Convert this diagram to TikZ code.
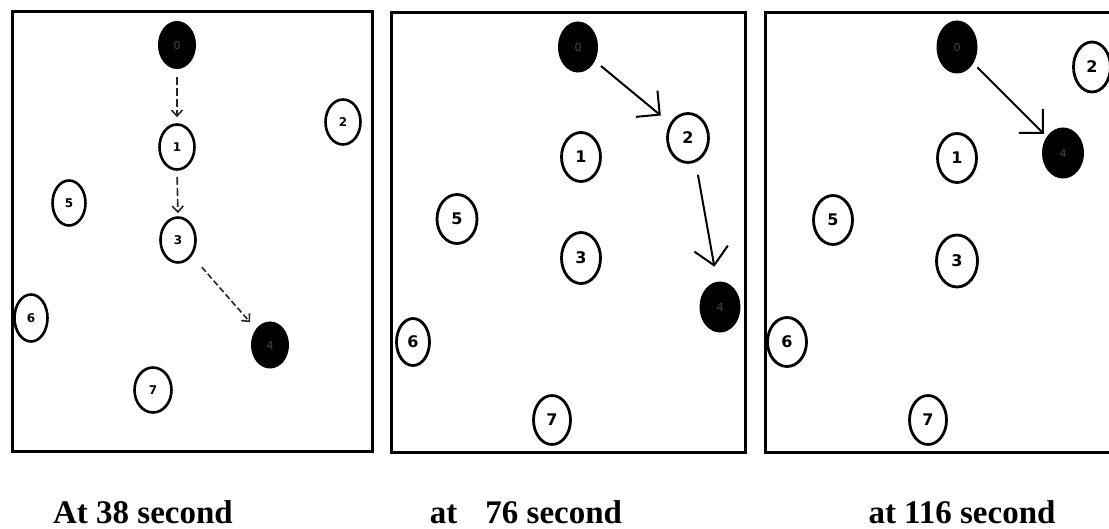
\documentclass[tikz,border=0pt]{standalone}
\usepackage{fontspec}
\setmainfont{Liberation Serif}
\newfontfamily\numfont{DejaVu Sans}
\usetikzlibrary{shapes.geometric,arrows.meta}

\tikzset{
  panelbox/.style={draw=black, line width=3pt},
  wnode/.style={ellipse, draw=black, line width=2.8pt, fill=white,
    minimum width=39pt, minimum height=49pt, inner sep=0pt,
    font=\numfont\bfseries\fontsize{16}{16}\selectfont},
  wsmall/.style={ellipse, draw=black, line width=2.6pt, fill=white,
    minimum width=35pt, minimum height=45pt, inner sep=0pt,
    font=\numfont\bfseries\fontsize{12}{12}\selectfont},
  bnode/.style={ellipse, draw=black, fill=black, line width=1pt,
    minimum width=39pt, minimum height=50pt, inner sep=0pt,
    text=black!72!white, font=\numfont\fontsize{11}{11}\selectfont},
  bsmall/.style={bnode, minimum width=37pt, minimum height=47pt},
  move/.style={draw=black, line width=2pt,
    -{Straight Barb[length=17pt,width=34pt,line width=2pt]}},
  hop/.style={draw=black!85, line width=1.6pt, dash pattern=on 8pt off 3pt},
  hoparrow/.style={hop, -{Straight Barb[length=6pt,width=11pt,line width=1.6pt]}},
  caption/.style={anchor=base, font=\bfseries\fontsize{33}{33}\selectfont}
}

\begin{document}
\begin{tikzpicture}[x=1pt, y=-1pt]
\useasboundingbox (0,0) rectangle (1109,529);

% ---- first snapshot ----
\draw[panelbox] (12,12) rectangle (372,451);
\node[bsmall] (a0) at (177,45) {0};
\node[wsmall] (a1) at (177,147) {1};
\node[wsmall] (a2) at (343,122) {2};
\node[wsmall] (a3) at (178,240) {3};
\node[bsmall, minimum height=46pt] (a4) at (270,345) {4};
\node[wsmall, minimum width=33pt] (a5) at (69,203) {5};
\node[wsmall, minimum width=33pt, minimum height=47pt] (a6) at (31,318) {6};
\node[wsmall, minimum width=37pt] (a7) at (153,390) {7};
\draw[hoparrow, shorten <=8pt, shorten >=6pt] (a0.south) -- (a1.north);
\draw[hoparrow, shorten <=6pt, shorten >=3pt] (a1.south) -- (a3.north);
\draw[hoparrow, dash pattern=on 6pt off 3pt, shorten <=15pt, shorten >=9pt] (a3) -- (a4);

% ---- second snapshot ----
\draw[panelbox] (391,13) rectangle (745,452);
\node[bnode] (b0) at (578,47) {0};
\node[wnode] (b1) at (581,157) {1};
\node[wnode, minimum width=41pt] (b2) at (688,138) {2};
\node[wnode, minimum height=51pt] (b3) at (581,258) {3};
\node[bnode, minimum width=40pt] (b4) at (720,307) {4};
\node[wnode, minimum width=40pt] (b5) at (457,219) {5};
\node[wnode, minimum width=33pt, minimum height=47pt] (b6) at (413,342) {6};
\node[wnode, minimum width=37pt] (b7) at (552,420) {7};
\draw[move, shorten <=8pt, shorten >=12pt] (b0) -- (b2);
\draw[move, shorten <=11pt, shorten >=15pt] ([xshift=8pt]b2.south) -- ([xshift=-3pt]b4.north);

% ---- third snapshot ----
\draw[panelbox] (765,13) rectangle (1114,452);
\node[bnode, minimum width=40pt, minimum height=52pt] (c0) at (957,47) {0};
\node[wnode] (c1) at (957,158) {1};
\node[wnode, minimum width=37pt, minimum height=50pt] (c2) at (1092,67) {2};
\node[wnode, minimum width=41pt, minimum height=52pt] (c3) at (957,261) {3};
\node[bnode, minimum width=41pt] (c4) at (1063,153) {4};
\node[wnode] (c5) at (833,220) {5};
\node[wnode] (c6) at (787,342) {6};
\node[wnode, minimum width=37pt] (c7) at (928,420) {7};
\draw[move, shorten <=6pt, shorten >=4pt] (c0) -- (c4);

% ---- captions ----
\node[caption] (t1) at (143,523) {At 38 second};
\node[caption] (t2) at (526,523) {at\hspace{28pt}76 second};
\node[caption] (t3) at (962,523) {at 116 second};
\end{tikzpicture}
\end{document}
